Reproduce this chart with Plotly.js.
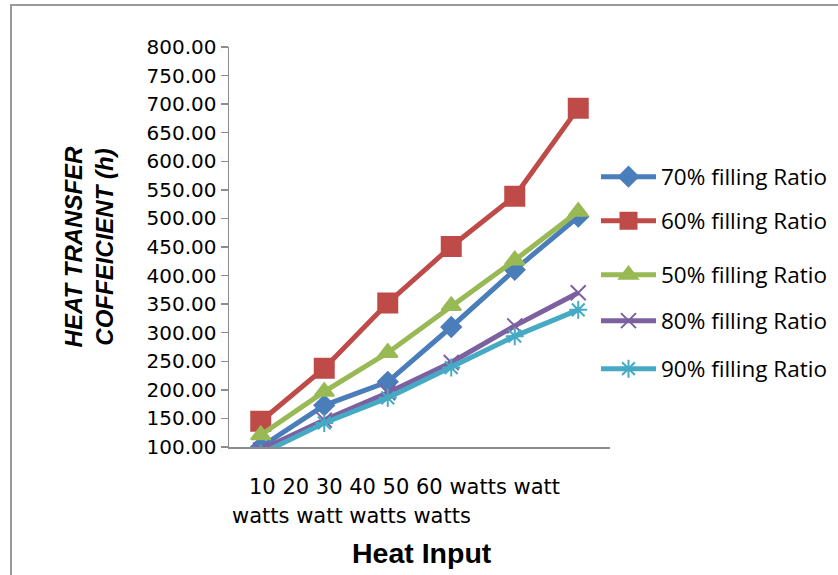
<!DOCTYPE html>
<html>
<head>
<meta charset="utf-8">
<script src="https://cdn.plot.ly/plotly-3.0.1.min.js"></script>
<style>
html,body{margin:0;padding:0;background:#fff;overflow:hidden;}
#frame{position:absolute;left:10px;top:4px;width:900px;height:700px;border-left:2px solid #999;border-top:2px solid #999;}
#chart{position:absolute;left:0;top:0;width:838px;height:575px;}
</style>
</head>
<body>
<div id="frame"></div>
<div id="chart"></div>
<script>
// ---- data ----
const categories = ["10 watts", "20 watt", "30 watts", "40 watt", "50 watts", "60 watts"];
const xLabelLines = ["10 20 30 40 50 60 watts watt", "watts watt watts watts"];
const seriesNames = ["70% filling Ratio", "60% filling Ratio", "50% filling Ratio", "80% filling Ratio", "90% filling Ratio"];
const fill70 = [100, 173, 214, 310, 410, 503];
const fill60 = [145, 238, 352, 451, 539, 693];
const fill50 = [121, 197, 265, 347, 427, 512];
const fill80 = [95, 147, 195, 248, 312, 370];
const fill90 = [88, 142, 186, 239, 294, 340];
const yTickVals = [100, 150, 200, 250, 300, 350, 400, 450, 500, 550, 600, 650, 700, 750, 800];

// ---- styles ----
const values = [fill70, fill60, fill50, fill80, fill90];
const colors = ["#4A7EBB", "#BE4B48", "#98B954", "#7D60A0", "#46AAC5"];
const symbols = ["diamond", "square", "triangle-up", "x-thin-open", "asterisk-open"];
const sizes = [15, 19, 17, 15, 15];
const legendNames = ["legend", "legend2", "legend3", "legend4", "legend5"];
const legendY = [177, 221, 275, 321, 369];
const tickFont = {family: "DejaVu Sans, sans-serif", size: 20, color: "#000"};
const xLabFont = {family: "DejaVu Sans, sans-serif", size: 21, color: "#000"};

const traces = values.map((v, i) => ({
  type: "scatter",
  mode: "lines+markers",
  x: categories,
  y: v,
  name: seriesNames[i],
  legend: legendNames[i],
  line: {color: colors[i], width: 5},
  marker: {symbol: symbols[i], size: sizes[i], color: colors[i], line: {color: colors[i], width: 2}}
}));

const layout = {
  width: 838, height: 575,
  margin: {l: 229, r: 228, t: 47, b: 128, autoexpand: false},
  paper_bgcolor: "rgba(0,0,0,0)",
  plot_bgcolor: "rgba(0,0,0,0)",
  showlegend: true,
  font: {family: "Open Sans, sans-serif", color: "#000"},
  xaxis: {
    type: "category",
    showticklabels: false,
    ticks: "",
    showgrid: false,
    zeroline: false,
    showline: true,
    linecolor: "#8c8c8c",
    linewidth: 1.5,
    range: [-0.5, 5.5],
    title: {text: ""}
  },
  yaxis: {
    range: [100, 800],
    tickvals: yTickVals,
    tickformat: ".2f",
    ticks: "outside",
    ticklen: 7,
    tickcolor: "#8c8c8c",
    tickwidth: 1.5,
    showline: true,
    linecolor: "#8c8c8c",
    linewidth: 1.5,
    showgrid: false,
    zeroline: false,
    tickfont: tickFont,
    title: {text: "<i>HEAT TRANSFER</i><br><i>COFFEICIENT (h)</i>", font: {family: "Liberation Sans, Arial, sans-serif", size: 24, weight: "bold"}, standoff: 26}
  },
  annotations: [
    {xref: "paper", yref: "paper", x: (247 - 229) / 381, y: -(487 - 447) / 400, xanchor: "left", yanchor: "middle", text: xLabelLines[0], showarrow: false, font: xLabFont},
    {xref: "paper", yref: "paper", x: (230 - 229) / 381, y: -(516 - 447) / 400, xanchor: "left", yanchor: "middle", text: xLabelLines[1], showarrow: false, font: xLabFont},
    {xref: "paper", yref: "paper", x: (422 - 229) / 381, y: -(553 - 447) / 400, xanchor: "center", yanchor: "middle", text: "<b>Heat Input</b>", showarrow: false, font: {family: "Liberation Sans, Arial, sans-serif", size: 28.5, color: "#000"}}
  ]
};
legendNames.forEach((ln, i) => {
  layout[ln] = {
    x: 596 / 838, xanchor: "left", xref: "container",
    y: 1 - legendY[i] / 575, yanchor: "middle", yref: "container",
    bgcolor: "rgba(0,0,0,0)", borderwidth: 0,
    itemwidth: 55,
    font: {family: "Open Sans, sans-serif", size: 22.5, color: "#000"}
  };
});

Plotly.newPlot("chart", traces, layout, {displayModeBar: false, staticPlot: true});
</script>
</body>
</html>
